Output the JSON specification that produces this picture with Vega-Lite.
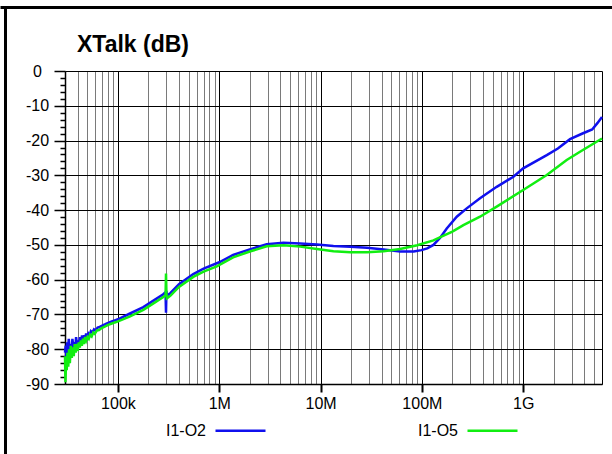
{
  "$schema": "https://vega.github.io/schema/vega-lite/v6.json",
  "width": 607,
  "height": 441,
  "autosize": {"type": "none"},
  "padding": {"left": 5, "top": 7, "right": 0, "bottom": 6},
  "background": "white",
  "view": {"stroke": null},
  "title": {"text": "XTalk (dB)", "anchor": "start", "frame": "group", "orient": "top", "offset": -68, "dx": 72, "baseline": "alphabetic", "font": "Liberation Sans", "fontSize": 23, "fontWeight": "bold", "color": "black"},
  "datasets": {
    "curves": [
      {"f":30000,"s":"I1-O2","db":-81},{"f":30500,"s":"I1-O2","db":-79},{"f":31000,"s":"I1-O2","db":-83},{"f":31500,"s":"I1-O2","db":-78},{"f":32000,"s":"I1-O2","db":-80.5},{"f":32700,"s":"I1-O2","db":-77},{"f":33400,"s":"I1-O2","db":-81},{"f":34000,"s":"I1-O2","db":-78.5},{"f":34800,"s":"I1-O2","db":-80.5},{"f":35500,"s":"I1-O2","db":-77},{"f":36300,"s":"I1-O2","db":-79.5},{"f":37000,"s":"I1-O2","db":-78},{"f":37800,"s":"I1-O2","db":-80},{"f":38600,"s":"I1-O2","db":-76.5},{"f":39500,"s":"I1-O2","db":-79},{"f":40400,"s":"I1-O2","db":-77.5},{"f":41300,"s":"I1-O2","db":-78.5},{"f":42200,"s":"I1-O2","db":-76.5},{"f":43200,"s":"I1-O2","db":-78},{"f":44200,"s":"I1-O2","db":-76},{"f":45200,"s":"I1-O2","db":-77.5},{"f":46300,"s":"I1-O2","db":-76},{"f":47400,"s":"I1-O2","db":-77},{"f":48500,"s":"I1-O2","db":-75.5},{"f":49700,"s":"I1-O2","db":-76.5},{"f":51000,"s":"I1-O2","db":-75.5},{"f":52500,"s":"I1-O2","db":-76},{"f":54000,"s":"I1-O2","db":-74.8},{"f":56000,"s":"I1-O2","db":-75.2},{"f":58000,"s":"I1-O2","db":-74.3},{"f":60000,"s":"I1-O2","db":-74.6},{"f":63000,"s":"I1-O2","db":-73.8},{"f":66000,"s":"I1-O2","db":-73.6},{"f":70000,"s":"I1-O2","db":-73.2},{"f":75000,"s":"I1-O2","db":-72.8},{"f":80000,"s":"I1-O2","db":-72.4},{"f":87000,"s":"I1-O2","db":-72},{"f":93000,"s":"I1-O2","db":-71.7},{"f":100000,"s":"I1-O2","db":-71.4},{"f":130000,"s":"I1-O2","db":-69.8},{"f":178000,"s":"I1-O2","db":-67.9},{"f":230000,"s":"I1-O2","db":-65.8},{"f":280000,"s":"I1-O2","db":-64.2},{"f":295000,"s":"I1-O2","db":-63.6},{"f":298000,"s":"I1-O2","db":-69.5},{"f":301000,"s":"I1-O2","db":-63.2},{"f":304000,"s":"I1-O2","db":-64.6},{"f":330000,"s":"I1-O2","db":-63.8},{"f":400000,"s":"I1-O2","db":-61.3},{"f":554000,"s":"I1-O2","db":-58.4},{"f":700000,"s":"I1-O2","db":-56.8},{"f":1000000,"s":"I1-O2","db":-55},{"f":1370000,"s":"I1-O2","db":-52.9},{"f":2000000,"s":"I1-O2","db":-51.3},{"f":2940000,"s":"I1-O2","db":-49.8},{"f":4300000,"s":"I1-O2","db":-49.4},{"f":6300000,"s":"I1-O2","db":-49.6},{"f":9200000,"s":"I1-O2","db":-49.9},{"f":13400000,"s":"I1-O2","db":-50.3},{"f":19700000,"s":"I1-O2","db":-50.5},{"f":28800000,"s":"I1-O2","db":-50.8},{"f":42000000,"s":"I1-O2","db":-51.3},{"f":61000000,"s":"I1-O2","db":-51.9},{"f":83000000,"s":"I1-O2","db":-51.9},{"f":99000000,"s":"I1-O2","db":-51.5},{"f":113000000,"s":"I1-O2","db":-51},{"f":130000000,"s":"I1-O2","db":-50},{"f":151000000,"s":"I1-O2","db":-48},{"f":176000000,"s":"I1-O2","db":-45.3},{"f":221000000,"s":"I1-O2","db":-41.9},{"f":277000000,"s":"I1-O2","db":-39.5},{"f":375000000,"s":"I1-O2","db":-36.6},{"f":548000000,"s":"I1-O2","db":-33.3},{"f":801000000,"s":"I1-O2","db":-30.4},{"f":1000000000,"s":"I1-O2","db":-28},{"f":1710000000,"s":"I1-O2","db":-24.2},{"f":2200000000,"s":"I1-O2","db":-22.3},{"f":2900000000,"s":"I1-O2","db":-19.6},{"f":3900000000,"s":"I1-O2","db":-17.9},{"f":4800000000,"s":"I1-O2","db":-16.8},{"f":5400000000,"s":"I1-O2","db":-15},{"f":6000000000,"s":"I1-O2","db":-13.2},
      {"f":30000,"s":"I1-O5","db":-82},{"f":30300,"s":"I1-O5","db":-89.5},{"f":30700,"s":"I1-O5","db":-84},{"f":31200,"s":"I1-O5","db":-86},{"f":31700,"s":"I1-O5","db":-81},{"f":32300,"s":"I1-O5","db":-85},{"f":32900,"s":"I1-O5","db":-80},{"f":33500,"s":"I1-O5","db":-84},{"f":34200,"s":"I1-O5","db":-79},{"f":35000,"s":"I1-O5","db":-82.5},{"f":35800,"s":"I1-O5","db":-79.5},{"f":36600,"s":"I1-O5","db":-82},{"f":37400,"s":"I1-O5","db":-78.5},{"f":38300,"s":"I1-O5","db":-81},{"f":39200,"s":"I1-O5","db":-78.5},{"f":40100,"s":"I1-O5","db":-80.5},{"f":41000,"s":"I1-O5","db":-78},{"f":42000,"s":"I1-O5","db":-79.5},{"f":43000,"s":"I1-O5","db":-77.5},{"f":44000,"s":"I1-O5","db":-79},{"f":45100,"s":"I1-O5","db":-77},{"f":46200,"s":"I1-O5","db":-78.5},{"f":47400,"s":"I1-O5","db":-76.5},{"f":48600,"s":"I1-O5","db":-77.5},{"f":50000,"s":"I1-O5","db":-76.5},{"f":51500,"s":"I1-O5","db":-77},{"f":53000,"s":"I1-O5","db":-75.8},{"f":55000,"s":"I1-O5","db":-76.3},{"f":57000,"s":"I1-O5","db":-75.2},{"f":59000,"s":"I1-O5","db":-75.6},{"f":62000,"s":"I1-O5","db":-74.6},{"f":65000,"s":"I1-O5","db":-74.5},{"f":69000,"s":"I1-O5","db":-73.9},{"f":74000,"s":"I1-O5","db":-73.5},{"f":80000,"s":"I1-O5","db":-73},{"f":87000,"s":"I1-O5","db":-72.6},{"f":93000,"s":"I1-O5","db":-72.3},{"f":100000,"s":"I1-O5","db":-72},{"f":130000,"s":"I1-O5","db":-70.6},{"f":178000,"s":"I1-O5","db":-68.7},{"f":230000,"s":"I1-O5","db":-66.6},{"f":280000,"s":"I1-O5","db":-65},{"f":295000,"s":"I1-O5","db":-64.4},{"f":298000,"s":"I1-O5","db":-58.2},{"f":301000,"s":"I1-O5","db":-64},{"f":304000,"s":"I1-O5","db":-65.4},{"f":330000,"s":"I1-O5","db":-64.6},{"f":400000,"s":"I1-O5","db":-62.1},{"f":554000,"s":"I1-O5","db":-59.2},{"f":700000,"s":"I1-O5","db":-57.7},{"f":945000,"s":"I1-O5","db":-56.2},{"f":1370000,"s":"I1-O5","db":-53.6},{"f":2000000,"s":"I1-O5","db":-51.9},{"f":2940000,"s":"I1-O5","db":-50.4},{"f":4300000,"s":"I1-O5","db":-50.1},{"f":6300000,"s":"I1-O5","db":-50.5},{"f":9200000,"s":"I1-O5","db":-51.2},{"f":13400000,"s":"I1-O5","db":-51.8},{"f":19700000,"s":"I1-O5","db":-52.1},{"f":28800000,"s":"I1-O5","db":-52.1},{"f":42000000,"s":"I1-O5","db":-51.8},{"f":61000000,"s":"I1-O5","db":-51.2},{"f":90000000,"s":"I1-O5","db":-50.1},{"f":130000000,"s":"I1-O5","db":-48.7},{"f":160000000,"s":"I1-O5","db":-47.5},{"f":200000000,"s":"I1-O5","db":-46.2},{"f":257000000,"s":"I1-O5","db":-44.3},{"f":375000000,"s":"I1-O5","db":-41.9},{"f":548000000,"s":"I1-O5","db":-39},{"f":1000000000,"s":"I1-O5","db":-34.2},{"f":1710000000,"s":"I1-O5","db":-29.9},{"f":2690000000,"s":"I1-O5","db":-25.6},{"f":3640000000,"s":"I1-O5","db":-23.2},{"f":6000000000,"s":"I1-O5","db":-19.4}
    ]
  },
  "data": {"name": "curves"},
  "layer": [
    {
      "mark": {"type": "line", "strokeWidth": 2.5},
      "encoding": {
        "x": {
          "field": "f", "type": "quantitative",
          "scale": {"type": "log", "domain": [30000, 6000000000], "range": [60, 597], "nice": false},
          "axis": {
            "orient": "bottom", "offset": -64, "title": null,
            "values": [30000,40000,50000,60000,70000,80000,90000,100000,200000,300000,400000,500000,600000,700000,800000,900000,1000000,2000000,3000000,4000000,5000000,6000000,7000000,8000000,9000000,10000000,20000000,30000000,40000000,50000000,60000000,70000000,80000000,90000000,100000000,200000000,300000000,400000000,500000000,600000000,700000000,800000000,900000000,1000000000,2000000000,3000000000,4000000000,5000000000,6000000000],
            "labelExpr": "datum.value == 100000 ? '100k' : datum.value == 1000000 ? '1M' : datum.value == 10000000 ? '10M' : datum.value == 100000000 ? '100M' : datum.value == 1000000000 ? '1G' : ''",
            "labelFont": "Liberation Sans", "labelFontSize": 16, "labelColor": "black", "labelPadding": 3,
            "labelFlush": false, "labelOverlap": false, "labelBound": false,
            "domainColor": "black", "domainWidth": 1.5,
            "tickSize": 8, "tickWidth": 2,
            "tickColor": {"condition": {"test": "indexof([100000,1000000,10000000,100000000,1000000000], datum.value) >= 0", "value": "black"}, "value": "transparent"},
            "grid": true, "gridWidth": 1,
            "gridColor": {"condition": {"test": "indexof([30000,100000,1000000,10000000,100000000,1000000000,6000000000], datum.value) >= 0", "value": "black"}, "value": "#7a7a7a"}
          }
        },
        "y": {
          "field": "db", "type": "quantitative",
          "scale": {"domain": [-90, 0], "range": [377, 64], "nice": false, "zero": false},
          "axis": {
            "orient": "left", "offset": -60, "title": null,
            "values": [-90,-88,-86,-84,-82,-80,-78,-76,-74,-72,-70,-68,-66,-64,-62,-60,-58,-56,-54,-52,-50,-48,-46,-44,-42,-40,-38,-36,-34,-32,-30,-28,-26,-24,-22,-20,-18,-16,-14,-12,-10,-8,-6,-4,-2,0],
            "labelExpr": "datum.value % 10 == 0 ? toString(datum.value) : ''",
            "labelFont": "Liberation Sans", "labelFontSize": 16, "labelColor": "black",
            "labelAlign": "center", "labelPadding": 17, "labelOverlap": false, "labelBound": false, "labelFlush": false,
            "domainColor": "black", "domainWidth": 1.5,
            "tickColor": "black", "tickWidth": 1.5,
            "tickSize": {"condition": {"test": "datum.value % 10 == 0", "value": 11}, "value": 5},
            "grid": true, "gridWidth": 1,
            "gridColor": {"condition": {"test": "datum.value % 10 == 0", "value": "black"}, "value": "transparent"}
          }
        },
        "color": {
          "field": "s", "type": "nominal",
          "scale": {"domain": ["I1-O2", "I1-O5"], "range": ["#1010ee", "#11ee11"]},
          "legend": {
            "orient": "none", "legendX": 209, "legendY": 397, "direction": "horizontal", "title": null,
            "symbolType": "stroke", "symbolSize": 2500, "symbolStrokeWidth": 2.5,
            "labelAlign": "right", "labelOffset": -61,
            "labelFont": "Liberation Sans", "labelFontSize": 16, "labelColor": "black", "labelLimit": 0,
            "columnPadding": 146
          }
        }
      }
    },
    {
      "mark": {"type": "line", "opacity": 0},
      "encoding": {
        "x": {
          "field": "f", "type": "quantitative",
          "scale": {"type": "log", "domain": [30000, 6000000000], "range": [-5, 607], "nice": false},
          "axis": {"orient": "top", "offset": 0, "title": null, "labels": false, "ticks": false, "grid": false, "domainColor": "black", "domainWidth": 3}
        },
        "y": {
          "field": "db", "type": "quantitative",
          "scale": {"domain": [-90, 0], "range": [447, 0], "nice": false, "zero": false},
          "axis": {"orient": "left", "offset": 0, "title": null, "labels": false, "ticks": false, "grid": false, "domainColor": "black", "domainWidth": 3}
        },
        "detail": {"field": "s"}
      }
    }
  ],
  "resolve": {"scale": {"x": "independent", "y": "independent"}, "axis": {"x": "independent", "y": "independent"}}
}
